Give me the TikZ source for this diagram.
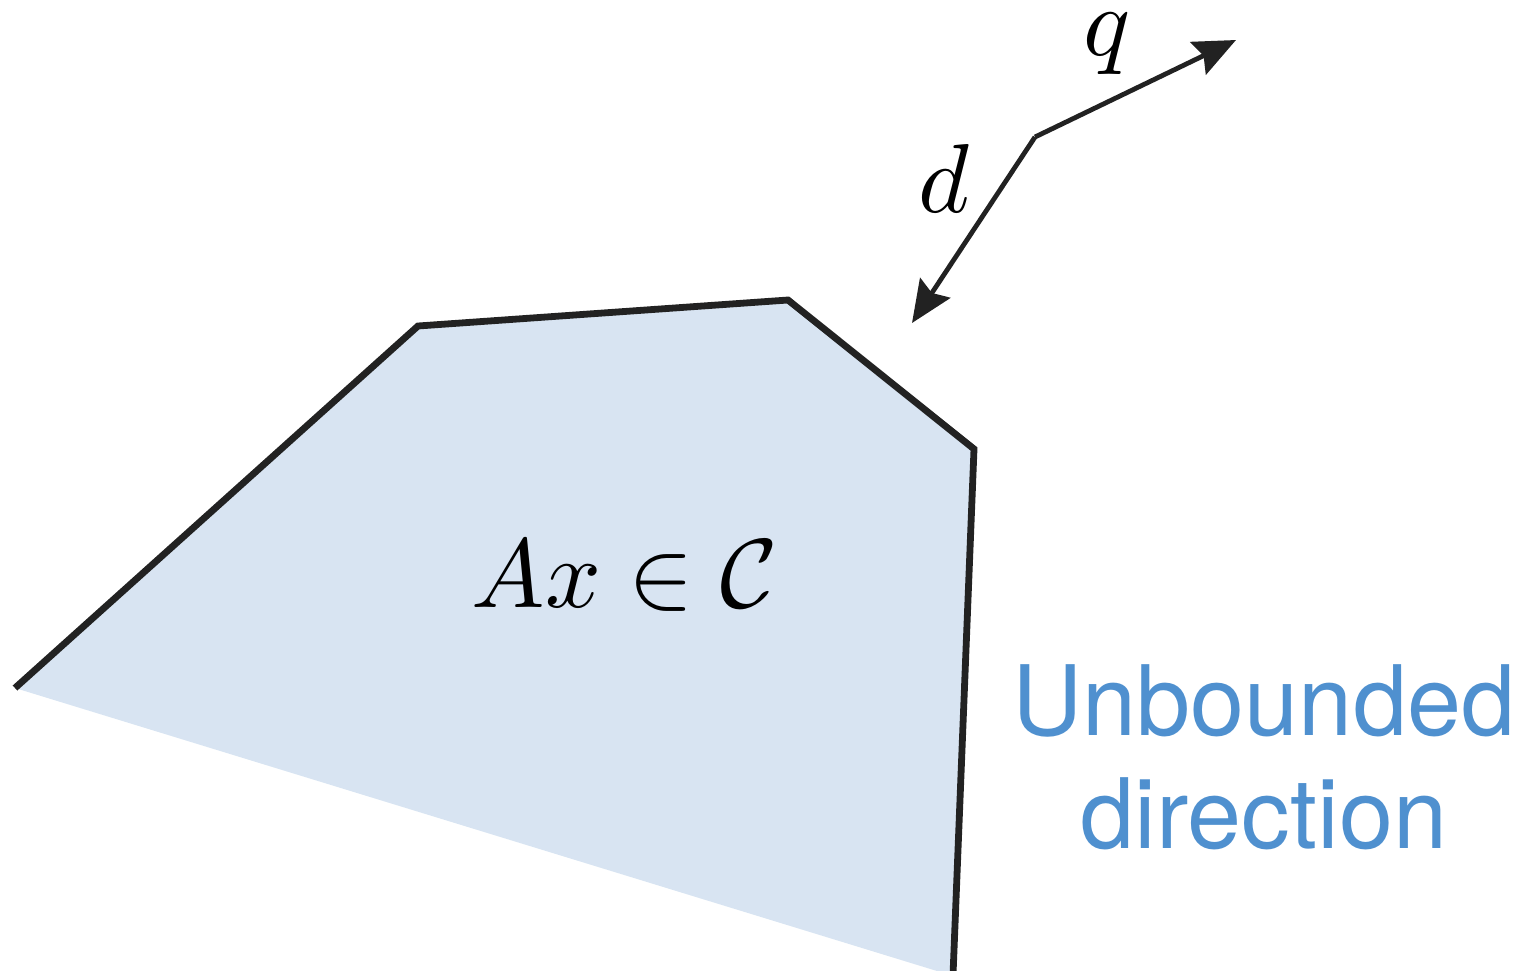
\documentclass[tikz,border=0pt]{standalone}
\usepackage{fontspec}
\newfontfamily\labelfont{TeX Gyre Heros}
\usetikzlibrary{arrows.meta}
\definecolor{regionfill}{HTML}{D8E4F2}
\definecolor{edgecol}{HTML}{222222}
\definecolor{bluetext}{HTML}{4F90CF}
\tikzset{
  edge/.style={draw=edgecol, line width=3.4pt, line join=miter},
  vec/.style={draw=edgecol, line width=2.4pt, -{Stealth[length=21pt,width=18pt,inset=3pt]}},
  mathlbl/.style={inner sep=0pt, scale=4.9},
  bluelbl/.style={inner sep=0pt, align=center, text=bluetext, font=\labelfont\fontsize{48.6}{56.5}\selectfont}
}
\begin{document}
\begin{tikzpicture}[x=0.5pt,y=-0.5pt]
\useasboundingbox (0,0) rectangle (1525,970);
% vertices
\coordinate (p0) at (15,688);
\coordinate (p1) at (418,326);
\coordinate (p2) at (788,300);
\coordinate (p3) at (974,449);
\coordinate (p4) at (953,975);
\coordinate (pb) at (950,975);
% region
\fill[regionfill] (p0) -- (p1) -- (p2) -- (p3) -- (p4) -- (pb) -- cycle;
\draw[edge] (p0) -- (p1) -- (p2) -- (p3) -- (p4);
% vectors
\coordinate (o) at (1035,137);
\coordinate (qt) at (1236,40);
\coordinate (dt) at (912,323);
\draw[vec] (o) -- (qt);
\draw[vec] (o) -- (dt);
% labels
\node[mathlbl] (q) at (1107,44) {$q$};
\node[mathlbl] (d) at (944,178) {$d$};
\node[mathlbl] (set) at (625,576) {$Ax \in \mathcal{C}$};
\node[bluelbl] (ub) at (1264,757) {Unbounded\\direction};
\end{tikzpicture}
\end{document}
